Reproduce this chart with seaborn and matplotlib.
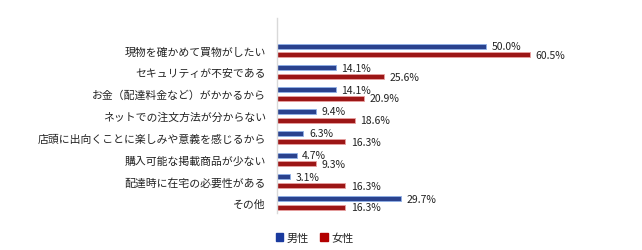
import matplotlib
matplotlib.use("Agg")
import matplotlib.pyplot as plt
import seaborn as sns
import pandas as pd

categories = [
    "現物を確かめて買物がしたい",
    "セキュリティが不安である",
    "お金（配達料金など）がかかるから",
    "ネットでの注文方法が分からない",
    "店頭に出向くことに楽しみや意義を感じるから",
    "購入可能な掲載商品が少ない",
    "配達時に在宅の必要性がある",
    "その他",
]
male = [50.0, 14.1, 14.1, 9.4, 6.3, 4.7, 3.1, 29.7]
female = [60.5, 25.6, 20.9, 18.6, 16.3, 9.3, 16.3, 16.3]
series = ["男性", "女性"]

df = pd.DataFrame({
    "reason": categories * 2,
    "value": male + female,
    "sex": [series[0]] * len(categories) + [series[1]] * len(categories),
})

sns.set_style("white")
plt.rcParams["font.family"] = ["Noto Sans CJK JP", "DejaVu Sans"]

colors = {"男性": "#1a3a9e", "女性": "#b20000"}
edges = {"男性": "#8fb0e8", "女性": "#e8a0a0"}

fig = plt.figure(figsize=(6.42, 2.51), dpi=100)
ax = fig.add_axes([277 / 642, 1 - 214 / 251, 320 / 642, 195 / 251])

sns.barplot(
    data=df, y="reason", x="value", hue="sex", order=categories,
    hue_order=series, palette=colors, orient="h", width=0.8, gap=0.42,
    legend=False, ax=ax,
)

# light outline like the original bars
for cont, s in zip(ax.containers, series):
    for bar in cont:
        bar.set_edgecolor(edges[s])
        bar.set_linewidth(0.6)
    ax.bar_label(cont, labels=[f"{v:.1f}%" for v in cont.datavalues],
                 padding=4, fontsize=7.5, color="#222222")

ax.set_xlim(0, 76.5)
ax.set_ylim(7.46, -1.49)
ax.set_xlabel("")
ax.set_ylabel("")
ax.set_xticks([])
ax.tick_params(axis="y", length=0, pad=8, labelsize=7.8, labelcolor="#222222")
for side in ["top", "right", "bottom"]:
    ax.spines[side].set_visible(False)
ax.spines["left"].set_color("#d9d9d9")
ax.spines["left"].set_linewidth(1)

handles = [plt.Rectangle((0, 0), 1, 1, color=colors[s]) for s in series]
fig.legend(handles, series, loc="center", bbox_to_anchor=(0.49, 0.05),
           ncol=2, frameon=False, fontsize=8, handlelength=0.7,
           handleheight=0.7, handletextpad=0.3, columnspacing=1.0)

fig.savefig("out.png", dpi=100, facecolor="white")
